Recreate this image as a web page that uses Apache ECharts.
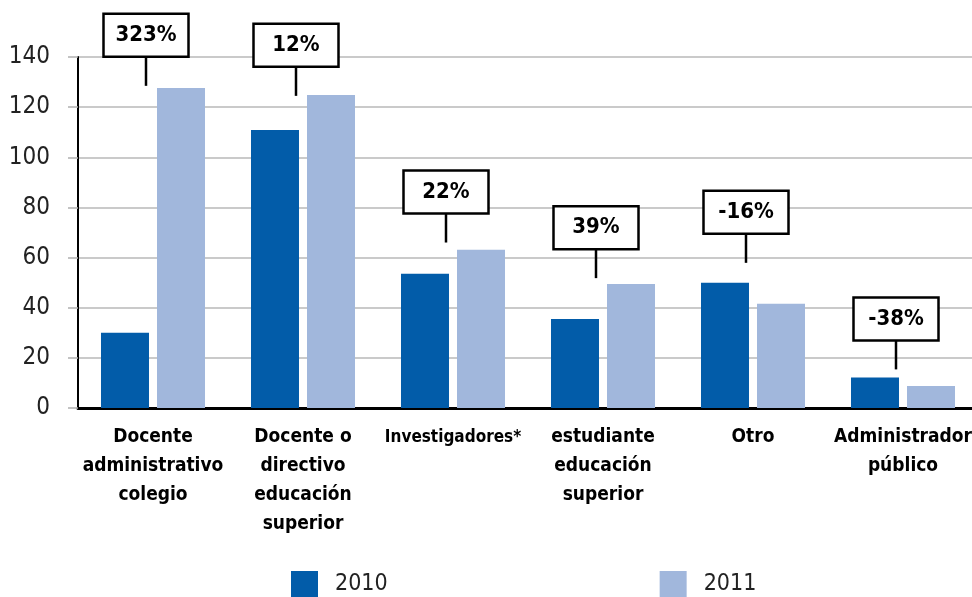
<!DOCTYPE html>
<html>
<head>
<meta charset="utf-8">
<script src="https://cdn.jsdelivr.net/npm/echarts@6/dist/echarts.min.js"></script>
<style>
  html, body { margin: 0; padding: 0; background: #fff; }
  #chart { width: 972px; height: 597px; }
</style>
</head>
<body>
<div id="chart"></div>
<script>
const categories = [
  'Docente\nadministrativo\ncolegio',
  'Docente o\ndirectivo\neducación\nsuperior',
  'Investigadores*',
  'estudiante\neducación\nsuperior',
  'Otro',
  'Administrador\npúblico'
]
const values2010 = [30, 110.9, 53.5, 35.5, 50, 12.2]
const values2011 = [127.6, 124.8, 63.1, 49.5, 41.6, 8.8]
// change labels and where their leader line ends (value units)
const changeLabels = ['323%', '12%', '22%', '39%', '-16%', '-38%']
const changeTips = [128.5, 124.5, 66, 51.8, 57.9, 15.4]
const yTicks = { min: 0, max: 140, interval: 20 }

const FONT = '"DejaVu Sans Condensed", "Liberation Sans Narrow", sans-serif'

const chart = echarts.init(document.getElementById('chart'))

const option = {
  animation: false,
  grid: { left: 78, top: 57, width: 900, height: 351, containLabel: false, outerBoundsMode: 'none' },
  legend: {
    data: ['2010', '2011'],
    left: 286,
    top: 566,
    icon: 'rect',
    itemWidth: 27,
    itemHeight: 27,
    itemGap: 272,
    textStyle: {
      fontFamily: FONT,
      fontSize: 23,
      color: '#222',
      padding: [0, 0, 0, 12],
    },
  },
  xAxis: {
    type: 'category',
    data: categories,
    axisLine: { lineStyle: { color: '#000', width: 3 } },
    axisTick: { length: 14, lineStyle: { color: '#000', width: 2.5 } },
    axisLabel: {
      interval: 0,
      margin: 15,
      fontFamily: FONT,
      fontWeight: 'bold',
      fontSize: 19,
      lineHeight: 29,
      color: '#000',
      formatter: (v) => (v === 'Investigadores*' ? '{s|' + v + '}' : v),
      rich: {
        s: { fontFamily: FONT, fontWeight: 'bold', fontSize: 17, color: '#000', lineHeight: 29 },
      },
    },
  },
  yAxis: {
    type: 'value',
    min: yTicks.min,
    max: yTicks.max,
    interval: yTicks.interval,
    axisLine: { show: true, lineStyle: { color: '#000', width: 2 } },
    axisTick: { show: true, length: 10, lineStyle: { color: '#b0b0b0', width: 1.5 } },
    splitLine: { lineStyle: { color: '#b8b8b8', width: 1.5 } },
    axisLabel: { margin: 28, fontFamily: FONT, fontSize: 24, color: '#222' },
  },
  series: [
    {
      name: '2010',
      type: 'bar',
      data: values2010,
      barWidth: 48,
      barGap: '16.7%',
      itemStyle: { color: '#025CA9' },
    },
    {
      name: '2011',
      type: 'bar',
      data: values2011,
      barWidth: 48,
      itemStyle: { color: '#A1B7DC' },
    },
    {
      name: 'cambio',
      type: 'custom',
      z: 10,
      silent: true,
      data: changeTips.map((v, i) => [i, v, changeLabels[i]]),
      renderItem: (params, api) => {
        const pt = api.coord([api.value(0), api.value(1)])
        const x = pt[0] - 7
        const tip = pt[1]
        const lineLen = 29
        const boxW = 85
        const boxH = 43
        const boxTop = tip - lineLen - boxH
        return {
          type: 'group',
          children: [
            {
              type: 'line',
              shape: { x1: x, y1: tip, x2: x, y2: tip - lineLen },
              style: { stroke: '#000', lineWidth: 2.5 },
            },
            {
              type: 'rect',
              shape: { x: x - boxW / 2, y: boxTop, width: boxW, height: boxH },
              style: { fill: '#fff', stroke: '#000', lineWidth: 2.5 },
            },
            {
              type: 'text',
              x: x,
              y: boxTop + boxH / 2,
              style: {
                text: changeLabels[params.dataIndex],
                fontFamily: FONT,
                fontWeight: 'bold',
                fontSize: 22,
                fill: '#000',
                align: 'center',
                verticalAlign: 'middle',
              },
            },
          ],
        }
      },
    },
  ],
}

chart.setOption(option)
</script>
</body>
</html>
